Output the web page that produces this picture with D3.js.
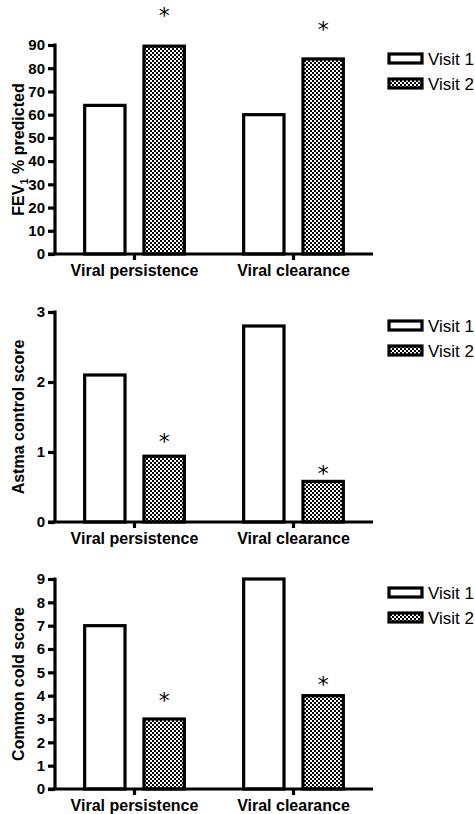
<!DOCTYPE html>
<html>
<head>
<meta charset="utf-8">
<script src="https://cdn.jsdelivr.net/npm/d3@7"></script>
<style>
  html, body { margin: 0; padding: 0; background: #fff; }
  svg { display: block; }
</style>
</head>
<body>
<svg id="chart" width="475" height="814"></svg>
<script>
// ---- data ----
const categories = ["Viral persistence", "Viral clearance"];
const seriesNames = ["Visit 1", "Visit 2"];

const fevVisit1 = [64, 60];
const fevVisit2 = [89.5, 84];
const fevStarLevel = [104, 98];
const fevTicks = [0, 10, 20, 30, 40, 50, 60, 70, 80, 90];

const acsVisit1 = [2.1, 2.8];
const acsVisit2 = [0.94, 0.58];
const acsStarLevel = [1.2, 0.74];
const acsTicks = [0, 1, 2, 3];

const coldVisit1 = [7, 9];
const coldVisit2 = [3, 4];
const coldStarLevel = [3.94, 4.63];
const coldTicks = [0, 1, 2, 3, 4, 5, 6, 7, 8, 9];

const panels = [
  { title: "FEV1 % predicted", sub: true, v1: fevVisit1, v2: fevVisit2, star: fevStarLevel, ticks: fevTicks, top: 45, bottom: 254 },
  { title: "Astma control score", v1: acsVisit1, v2: acsVisit2, star: acsStarLevel, ticks: acsTicks, top: 312, bottom: 522 },
  { title: "Common cold score", v1: coldVisit1, v2: coldVisit2, star: coldStarLevel, ticks: coldTicks, top: 579, bottom: 789 }
];

// ---- drawing ----
const svg = d3.select("#chart");
const FONT = "'Liberation Sans', Arial, Helvetica, sans-serif";
const SW = 3.2;

const defs = svg.append("defs");
const pat = defs.append("pattern")
  .attr("id", "checker").attr("patternUnits", "userSpaceOnUse")
  .attr("width", 4).attr("height", 4);
pat.append("rect").attr("width", 4).attr("height", 4).attr("fill", "#fff");
pat.append("rect").attr("width", 2).attr("height", 2).attr("fill", "#000");
pat.append("rect").attr("x", 2).attr("y", 2).attr("width", 2).attr("height", 2).attr("fill", "#000");

const fills = ["#fff", "url(#checker)"];
const xLeft = 55, xRight = 373;

const x0 = d3.scaleBand().domain(categories).range([xLeft, xRight]).padding(0);
const x1 = d3.scaleBand().domain(seriesNames).range([0, x0.bandwidth()])
  .paddingInner(0.32).paddingOuter(0.5);

panels.forEach(p => {
  const g = svg.append("g");
  const maxTick = p.ticks[p.ticks.length - 1];
  const y = d3.scaleLinear().domain([0, maxTick]).range([p.bottom, p.top]);

  const rows = categories.map((c, i) => ({ c, vals: [p.v1[i], p.v2[i]], star: p.star[i] }));
  rows.forEach(r => {
    seriesNames.forEach((s, j) => {
      const v = r.vals[j];
      g.append("rect")
        .attr("x", x0(r.c) + x1(s))
        .attr("y", y(v))
        .attr("width", x1.bandwidth())
        .attr("height", y(0) - y(v))
        .attr("fill", fills[j])
        .attr("stroke", "#000")
        .attr("stroke-width", SW);
    });
    g.append("text")
      .attr("x", x0(r.c) + x1("Visit 2") + x1.bandwidth() / 2)
      .attr("y", y(r.star))
      .attr("dy", "0.5em")
      .attr("text-anchor", "middle")
      .style("font-family", "'DejaVu Sans', sans-serif")
      .style("font-size", "22px")
      .text("*");
  });

  // y axis
  const yAxis = d3.axisLeft(y).tickValues(p.ticks).tickSize(7).tickPadding(3).tickFormat(d3.format("d"));
  const ya = g.append("g").attr("transform", `translate(${xLeft},0)`).call(yAxis);
  ya.select(".domain").attr("stroke-width", SW).attr("d", `M0,${p.top - 1.5}V${p.bottom}`);
  ya.selectAll(".tick line").attr("stroke-width", SW);
  ya.selectAll(".tick text")
    .style("font-family", FONT).style("font-size", "15px").style("font-weight", "bold").attr("fill", "#000");

  // x axis
  const xAxis = d3.axisBottom(x0).tickSize(6).tickPadding(5);
  const xa = g.append("g").attr("transform", `translate(0,${p.bottom})`).call(xAxis);
  xa.select(".domain").attr("stroke-width", SW).attr("d", `M${xLeft - 7},0H${xRight}`);
  xa.selectAll(".tick line").attr("stroke-width", SW);
  xa.selectAll(".tick text")
    .style("font-family", FONT).style("font-size", "16px").style("font-weight", "bold").attr("fill", "#000");

  // y title
  const cy = (p.top + p.bottom) / 2;
  const t = g.append("text")
    .attr("transform", `translate(24,${cy}) rotate(-90)`)
    .attr("text-anchor", "middle")
    .style("font-family", FONT).style("font-size", "16px").style("font-weight", "bold");
  if (p.sub) {
    t.append("tspan").text("FEV");
    t.append("tspan").attr("dy", 4).style("font-size", "11px").text("1");
    t.append("tspan").attr("dy", -4).text(" % predicted");
  } else {
    t.text(p.title);
  }

  // legend
  const lg = g.append("g");
  seriesNames.forEach((s, j) => {
    const ly = p.top + 9 + j * 25;
    lg.append("rect")
      .attr("x", 389).attr("y", ly).attr("width", 33).attr("height", 9)
      .attr("fill", fills[j]).attr("stroke", "#000").attr("stroke-width", SW);
    lg.append("text")
      .attr("x", 428).attr("y", ly + 4.5).attr("dy", "0.36em")
      .style("font-family", FONT).style("font-size", "17px")
      .text(s);
  });
});
</script>
</body>
</html>
